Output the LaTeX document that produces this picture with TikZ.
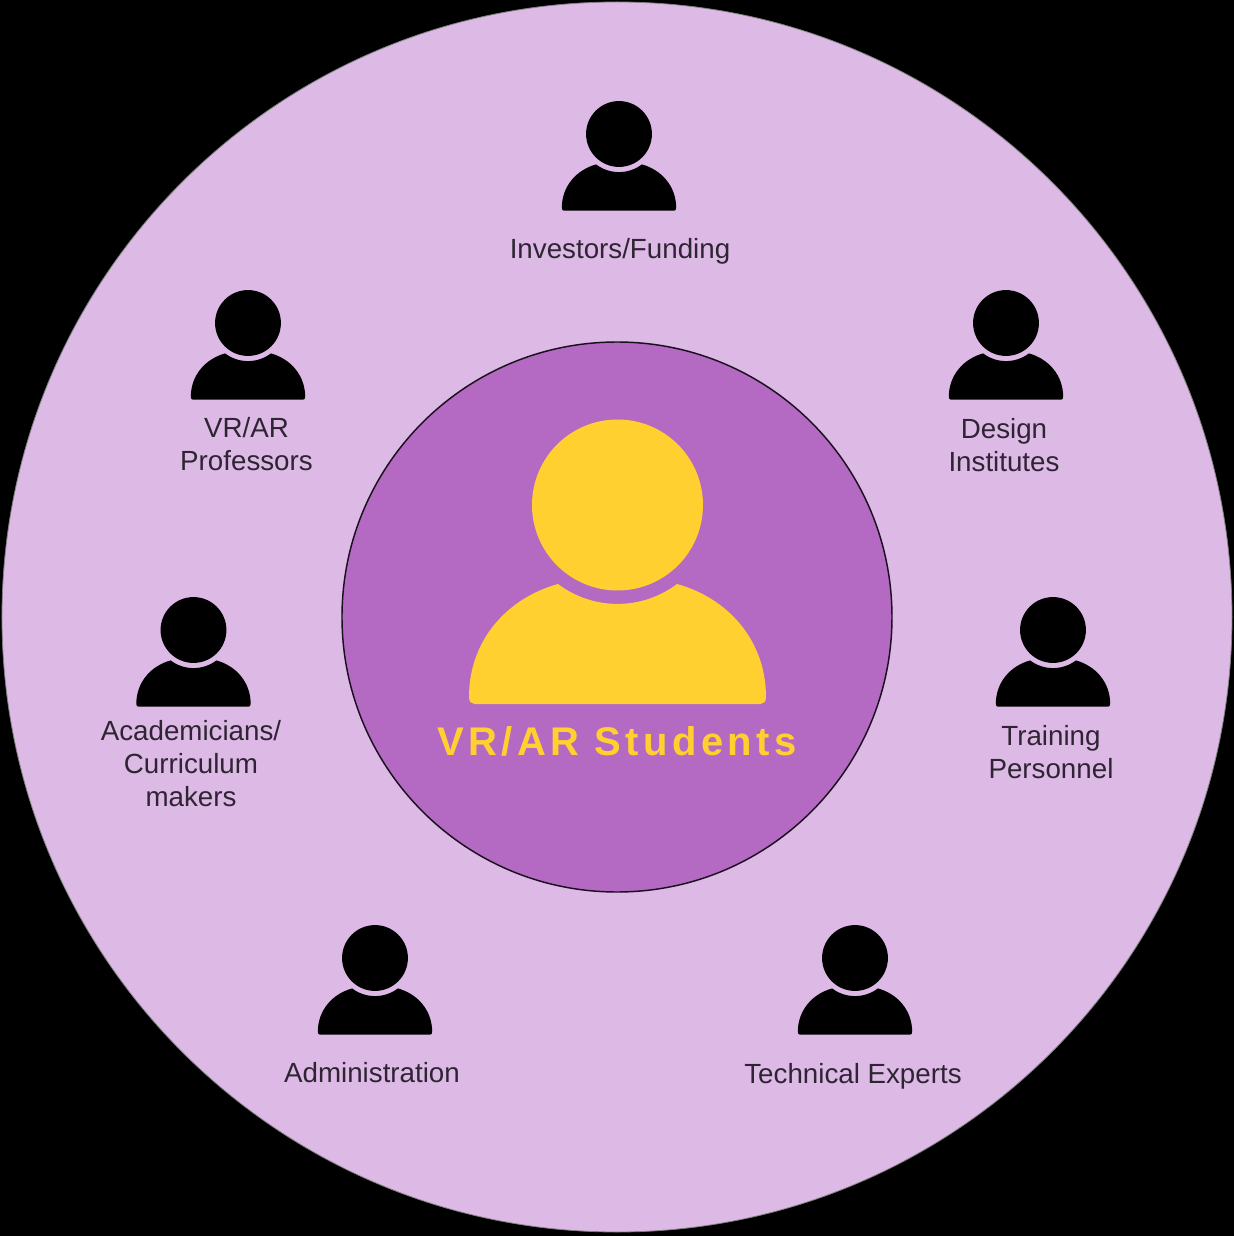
\documentclass[tikz,border=0pt]{standalone}
\usepackage{fontspec}
\setmainfont{Liberation Sans}
\newfontfamily\studentfont[LetterSpace=11]{Liberation Sans}
\definecolor{pouter}{HTML}{DDB9E5}
\definecolor{pinner}{HTML}{B469C3}
\definecolor{pyellow}{HTML}{FFD02F}
\definecolor{pink}{HTML}{2E2433}
\tikzset{
  % Head and shoulders, drawn around the centre of the head.
  person/.pic = {
    \fill (0,0) circle (85.5);
    \fill (-59.5,-79) arc[start angle=233, end angle=307, radius=98.9]
          .. controls (110,-93) and (148.5,-135) .. (148.5,-192)
          .. controls (148.5,-197) and (146,-199) .. (143,-199)
          -- (-143,-199)
          .. controls (-146,-199) and (-148.5,-197) .. (-148.5,-192)
          .. controls (-148.5,-135) and (-110,-93) .. (-59.5,-79) -- cycle;
  },
  lbl/.style = {font=\fontsize{20.8}{24.75}\selectfont, text=pink, align=center},
}
\begin{document}
\begin{tikzpicture}[x=0.75pt,y=0.75pt]
\useasboundingbox (-617,-619) rectangle (617,617);
% ---- background and rings -------------------------------------------
\fill[black] (-617,-619) rectangle (617,617);
\draw[fill=pouter, draw=gray, line width=0.6pt] (0,0) circle (615);
\draw[fill=pinner, draw=black!85!pinner, line width=1.1pt] (0,0) circle (275);

% ---- centre ---------------------------------------------------------
\pic[pyellow] at (0.5,112) {person};
\node[font=\fontsize{30}{34}\selectfont\studentfont\bfseries, text=pyellow] (students) at (0,-124) {VR/AR Students};

% ---- people around the ring -----------------------------------------
\foreach \nm/\hx/\hy/\lx/\ly/\txt in {
    investors/2/483/3/366/{Investors/Funding},
    professors/-369/294/-370.5/173/{VR/AR\\Professors},
    design/389/294/387/172/{Design\\Institutes},
    academicians/-423.5/-13/-426/-147/{Academicians/\\Curriculum\\makers},
    training/436/-13/434/-135/{Training\\Personnel},
    administration/-242/-341/-245/-456/{Administration},
    technical/238/-341/236/-459/{Technical Experts}} {
  \pic[black, scale=0.385] at (\hx,\hy) {person};
  \node[lbl] (\nm) at (\lx,\ly) {\txt};
}
\end{tikzpicture}
\end{document}
